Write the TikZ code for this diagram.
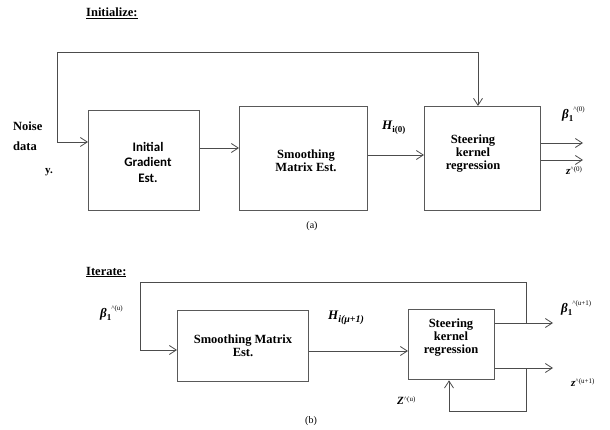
\documentclass[tikz,border=0pt]{standalone}
\usepackage{fontspec}
\setmainfont{Liberation Serif}
\newfontfamily\calfont{Carlito}
\usetikzlibrary{arrows.meta}
\begin{document}
\begin{tikzpicture}[x=1pt,y=-1pt,
  blk/.style={draw=black!65,line width=1.3pt,fill=white},
  conn/.style={draw=black!70,line width=0.8pt},
  arr/.style={conn,-{Straight Barb[length=7pt,width=9pt,line width=0.8pt]}},
  btxt/.style={font=\fontsize{12.5}{13}\selectfont\bfseries,align=center,inner sep=0pt},
  lbl/.style={font=\fontsize{13}{13}\selectfont\bfseries\itshape,inner sep=0pt,anchor=west},
  captxt/.style={font=\fontsize{10}{12}\selectfont,inner sep=0pt}]
\useasboundingbox (0,0) rectangle (610,430);
\newcommand{\sfx}[2]{\raisebox{-3pt}{\fontsize{9}{9}\selectfont\upshape #1}\raisebox{7pt}{\fontsize{7}{7}\selectfont\upshape\mdseries #2}}
% ---------- (a) ----------
\node[font=\fontsize{12.5}{13}\selectfont\bfseries,inner sep=0pt,anchor=west] (t1) at (86,13) {\underline{Initialize:}};
\node[blk,minimum width=111,minimum height=100,anchor=north west] (b1) at (88,110) {};
\node[font=\fontsize{13}{15.5}\selectfont\calfont\bfseries,align=center,inner sep=0pt] (b1t) at (148,162) {Initial\\Gradient\\Est.};
\node[blk,minimum width=128,minimum height=104,anchor=north west] (b2) at (239,106) {};
\node[btxt] (b2t) at (306,161) {Smoothing\\Matrix Est.};
\node[blk,minimum width=116,minimum height=104,anchor=north west] (b3) at (424,106) {};
\node[btxt] (b3t) at (473,154) {Steering\\kernel\\regression};
\node[font=\fontsize{12.5}{20}\selectfont\bfseries,align=left,inner sep=0pt,anchor=north west] (nd) at (13,122) {Noise\\data};
\node[font=\fontsize{11}{12}\selectfont\bfseries,inner sep=0pt] (y) at (49,172) {y.};
\coordinate (c1) at (57,142);
\coordinate (c2) at (57,52);
\coordinate (c3) at (478,52);
\draw[arr] (c1) -- (b1.west |- c1);
\draw[arr] (c1) -- (c2) -- (c3) -- (c3 |- b3.north);
\draw[arr] (b1.east |- 0,148) -- (b2.west |- 0,148);
\draw[arr] (b2.east |- 0,155) -- (b3.west |- 0,155);
\coordinate (o1) at (583,143);
\coordinate (o2) at (583,160);
\draw[arr] (b3.east |- o1) -- (o1);
\draw[arr] (b3.east |- o2) -- (o2);
\node[lbl] (h0) at (382,128) {H\sfx{i(0)}{}};
\node[lbl] (be0) at (562,114) {β\sfx{1}{\^{}(0)}};
\node[lbl,font=\fontsize{11}{11}\selectfont\bfseries\itshape] (z0) at (566,171) {z\raisebox{3pt}{\fontsize{7}{7}\selectfont\upshape\mdseries\^{}(0)}};
\node[captxt] (ca) at (312,226) {(a)};
% ---------- (b) ----------
\node[font=\fontsize{12.5}{13}\selectfont\bfseries,inner sep=0pt,anchor=west] (t2) at (86,272) {\underline{Iterate:}};
\node[blk,minimum width=131,minimum height=71,anchor=north west] (b4) at (177,310) {};
\node[btxt] (b4t) at (243,346) {Smoothing Matrix\\Est.};
\node[blk,minimum width=86,minimum height=70,anchor=north west] (b5) at (408,309) {};
\node[btxt] (b5t) at (451,338) {Steering\\kernel\\regression};
\coordinate (d1) at (140,350);
\coordinate (d2) at (140,282);
\coordinate (d3) at (526,282);
\coordinate (d4) at (526,323);
\coordinate (p1) at (553,323);
\coordinate (p2) at (553,368);
\coordinate (f1) at (526,368);
\coordinate (f2) at (526,411);
\coordinate (f3) at (449,411);
\draw[arr] (d1) -- (b4.west |- d1);
\draw[conn] (d1) -- (d2) -- (d3) -- (d4);
\draw[arr] (b4.east |- 0,351) -- (b5.west |- 0,351);
\draw[arr] (b5.east |- p1) -- (p1);
\draw[arr] (b5.east |- p2) -- (p2);
\draw[arr] (f1) -- (f2) -- (f3) -- (f3 |- b5.south);
\node[lbl] (beu) at (100,313) {β\sfx{1}{\^{}(u)}};
\node[lbl] (hu) at (328,318) {H\raisebox{-3pt}{\fontsize{10}{10}\selectfont\bfseries\itshape i(μ+1)}};
\node[lbl] (beu1) at (561,308) {β\sfx{1}{\^{}(u+1)}};
\node[lbl,font=\fontsize{11}{11}\selectfont\bfseries\itshape] (zu1) at (571,383) {z\raisebox{3pt}{\fontsize{7}{7}\selectfont\upshape\mdseries\^{}(u+1)}};
\node[lbl,font=\fontsize{11}{11}\selectfont\bfseries\itshape] (zu) at (397,401) {Z\raisebox{3pt}{\fontsize{7}{7}\selectfont\upshape\mdseries\^{}(u)}};
\node[captxt] (cb) at (311,421) {(b)};
\end{tikzpicture}
\end{document}
